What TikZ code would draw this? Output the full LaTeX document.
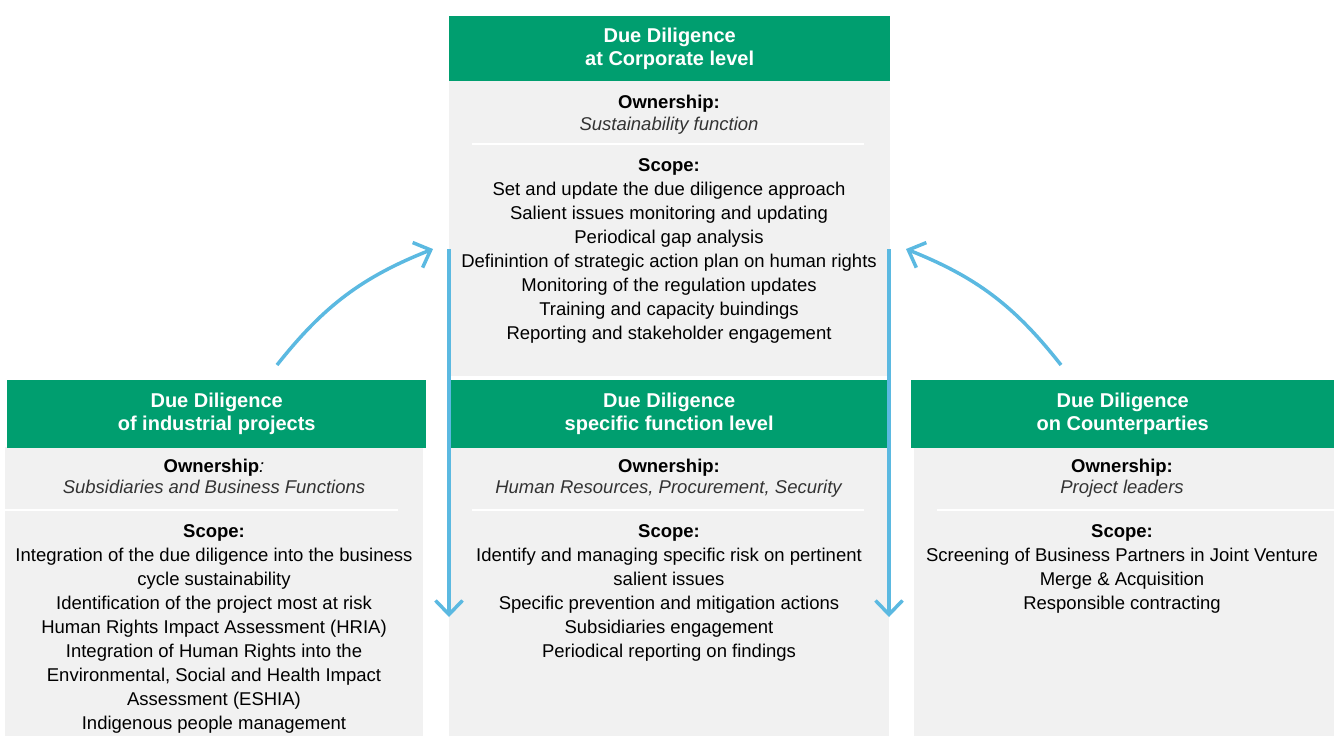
\documentclass[tikz,border=0pt]{standalone}
\usepackage{fontspec}
\setmainfont{Liberation Sans}
\usetikzlibrary{arrows.meta}

\definecolor{ddgreen}{RGB}{0,158,111}
\definecolor{ddgray}{RGB}{241,241,241}
\definecolor{ddblue}{RGB}{91,185,225}

\begin{document}
\begin{tikzpicture}[x=1pt,y=1pt,
	head/.style={fill=ddgreen, text=white, anchor=north west, inner sep=0pt, align=center,
		font=\fontsize{20}{23}\selectfont\bfseries},
	body/.style={fill=ddgray, anchor=north west, inner sep=0pt},
	txt/.style={anchor=base, inner sep=0pt, align=center, font=\fontsize{18.5}{24}\selectfont},
	sep/.style={draw=white, line width=2.5pt},
	flow/.style={draw=ddblue, line width=3.5pt, -{Straight Barb[length=14pt,width=27pt]}}]
	\useasboundingbox (0,0) rectangle (1340,-736);

	% boxes
	\node[body, minimum width=441, minimum height=295] (corpBody) at (449,-81) {};
	\node[body, minimum width=418, minimum height=289] (projBody) at (5,-447) {};
	\node[body, minimum width=440, minimum height=289] (funcBody) at (449,-447) {};
	\node[body, minimum width=420, minimum height=289] (cptyBody) at (914,-447) {};

	\node[head, minimum width=441, minimum height=65] (corpHead) at (449,-16) {Due Diligence\\at Corporate level};
	\node[head, minimum width=419, minimum height=68] (projHead) at (7,-380) {Due Diligence\\of industrial projects};
	\node[head, minimum width=440, minimum height=68] (funcHead) at (449,-380) {Due Diligence\\specific function level};
	\node[head, minimum width=423, minimum height=68] (cptyHead) at (911,-380) {Due Diligence\\on Counterparties};

	\draw[sep] (472,-144) -- (864,-144);
	\draw[sep] (5,-510) -- (398,-510);
	\draw[sep] (472,-510) -- (864,-510);
	\draw[sep] (937,-510) -- (1334,-510);

	% corporate level (base = last line)
	\node[txt] (corpOwn) at (669,-130) {\textbf{Ownership:}\\[-2pt]\textcolor{black!80}{\textit{Sustainability function}}};
	\node[txt] (corpScope) at (669,-339) {\textbf{Scope:}\\Set and update the due diligence approach\\Salient issues monitoring and updating\\Periodical gap analysis\\Definintion of strategic action plan on human rights\\Monitoring of the regulation updates\\Training and capacity buindings\\Reporting and stakeholder engagement};

	% industrial projects
	\node[txt] (projOwn) at (214,-493) {\textbf{Ownership}\textit{:}\\[-3pt]\textcolor{black!80}{\textit{Subsidiaries and Business Functions}}};
	\node[txt] (projScope) at (214,-729) {\textbf{Scope:}\\Integration of the due diligence into the business\\cycle sustainability\\Identification of the project most at risk\\Human Rights Impact Assessment (HRIA)\\Integration of Human Rights into the\\Environmental, Social and Health Impact\\Assessment (ESHIA)\\Indigenous people management};

	% specific function level
	\node[txt] (funcOwn) at (669,-493) {\textbf{Ownership:}\\[-3pt]\textcolor{black!80}{\textit{Human Resources, Procurement, Security}}};
	\node[txt] (funcScope) at (669,-657) {\textbf{Scope:}\\Identify and managing specific risk on pertinent\\salient issues\\Specific prevention and mitigation actions\\Subsidiaries engagement\\Periodical reporting on findings};

	% counterparties
	\node[txt] (cptyOwn) at (1122,-493) {\textbf{Ownership:}\\[-3pt]\textcolor{black!80}{\textit{Project leaders}}};
	\node[txt] (cptyScope) at (1122,-609) {\textbf{Scope:}\\Screening of Business Partners in Joint Venture\\Merge \& Acquisition\\Responsible contracting};

	% arrows
	\coordinate (corpL) at (449,-249);
	\coordinate (corpR) at (889,-249);
	\coordinate (funcL) at (449,-617);
	\coordinate (funcR) at (889,-617);
	\coordinate (projTop) at (277,-365);
	\coordinate (cptyTop) at (1061,-365);
	\coordinate (corpInL) at (433,-249);
	\coordinate (corpInR) at (906,-249);

	\draw[flow] (corpL) -- (funcL);
	\draw[flow] (corpR) -- (funcR);
	\draw[flow] (projTop) to[bend left=15] (corpInL);
	\draw[flow] (cptyTop) to[bend right=15] (corpInR);
\end{tikzpicture}
\end{document}
